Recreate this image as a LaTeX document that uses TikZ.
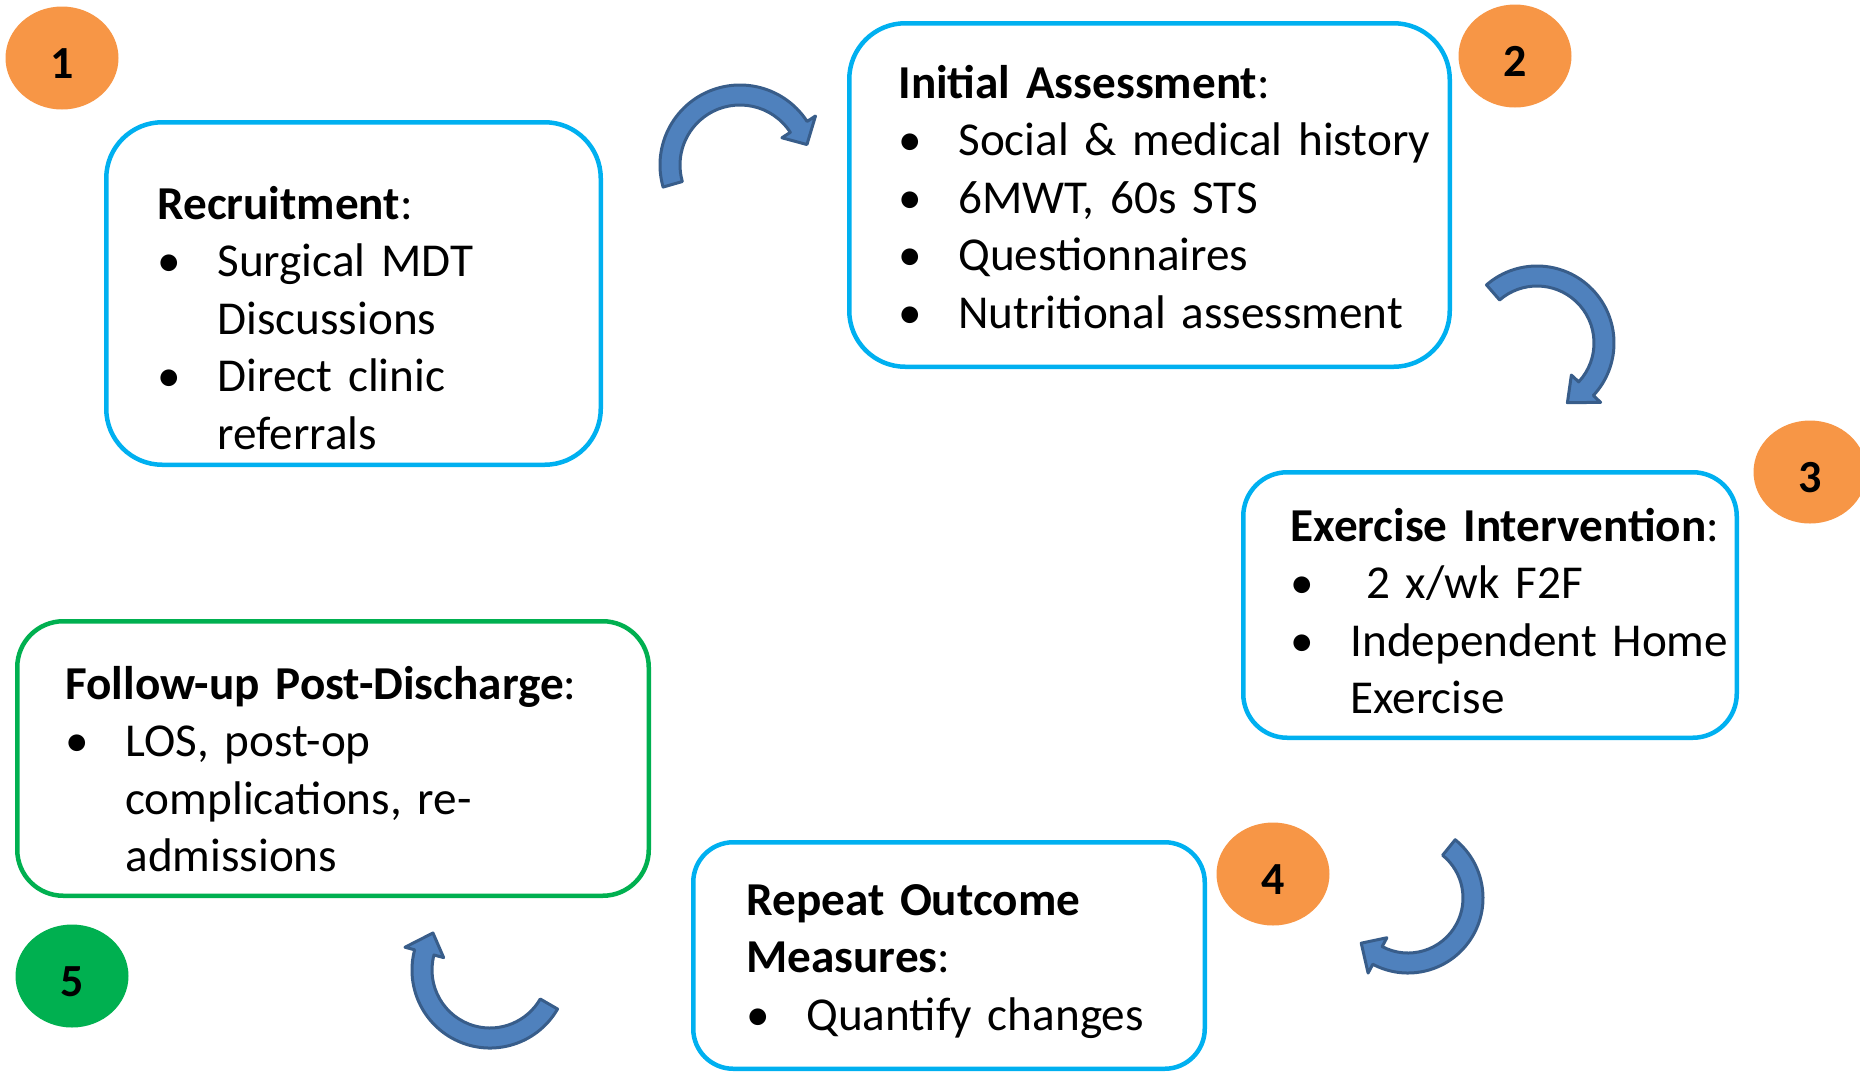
\documentclass[tikz,border=0pt]{standalone}
\usepackage{fontspec}
\setmainfont{Carlito}
\usepackage{xcolor}
\usepackage{tikz}
\usetikzlibrary{shapes.geometric, positioning}

\definecolor{stageblue}{HTML}{00B0F0}
\definecolor{stagegreen}{HTML}{00B050}
\definecolor{badgeorange}{HTML}{F79646}
\definecolor{arrowfill}{HTML}{4F81BD}
\definecolor{arrowline}{HTML}{385D8A}

% bullet line with hanging indent (break lines with \newline)
\newcommand{\bul}[1]{\par\noindent\hangindent=30pt\hangafter=1\makebox[30pt][l]{\textbullet}#1\par}

\begin{document}
\begin{tikzpicture}[
    x=0.5pt, y=-0.5pt,
    font=\fontsize{23.6pt}{28.75pt}\selectfont,
    % Stage boxes
    stage/.style={draw=stageblue, line width=2.25pt, fill=white, rectangle},
    stagetext/.style={anchor=north west, inner sep=0pt, text width=340pt, align=left},
    % Numbered badges
    badge/.style={ellipse, fill=badgeorange, minimum width=56.5pt, minimum height=51.5pt,
        inner sep=0pt, text height=20pt, text depth=0pt, font=\fontsize{23pt}{28.75pt}\selectfont\bfseries},
    % Curved block arrows: radius / start angle / end angle / tip angle
    arrowbody/.style={fill=arrowfill, draw=arrowline, line width=1.5pt, line join=round},
    pics/bendarrow/.style args={#1/#2/#3/#4}{code={
        \filldraw[arrowbody] (#2:#1+10) arc[start angle=#2, end angle=#3, radius=#1+10]
            -- (#3:#1+20) -- (#4:#1) -- (#3:#1-20) -- (#3:#1-10)
            arc[start angle=#3, end angle=#2, radius=#1-10] -- cycle;
    }}
]
\useasboundingbox (0,0) rectangle (1860,1073);

% ---------------------------------------------------
% 1. STAGE BOXES
% ---------------------------------------------------
\node[stage, rounded corners=28pt, minimum width=247.25pt, minimum height=171.25pt] (recruit) at (353.5,293.5) {};
\node[stage, rounded corners=28pt, minimum width=300.25pt, minimum height=171.75pt] (assess) at (1149.5,195) {};
\node[stage, rounded corners=22pt, minimum width=246.75pt, minimum height=132.75pt] (exercise) at (1490,605) {};
\node[stage, rounded corners=20pt, minimum width=255.75pt, minimum height=113.25pt] (repeat) at (949,955.5) {};
\node[stage, draw=stagegreen, rounded corners=23pt, minimum width=315.75pt, minimum height=137.25pt] (followup) at (333,758.5) {};

% box contents (first baseline sits 40.25 below the anchor)
\node[stagetext] (recruit_txt) at (157,178.75) {\strut\textbf{Recruitment}:
    \bul{Surgical MDT\newline Discussions}
    \bul{Direct clinic\newline referrals}};
\node[stagetext] (assess_txt) at (898,57.75) {\strut\textbf{Initial Assessment}:
    \bul{Social \& medical history}
    \bul{6MWT, 60s STS}
    \bul{Questionnaires}
    \bul{Nutritional assessment}};
\node[stagetext] (exercise_txt) at (1290,500.75) {\strut\textbf{Exercise Intervention}:
    \bul{\ 2 x/wk F2F}
    \bul{Independent Home\newline Exercise}};
\node[stagetext] (repeat_txt) at (746,874.75) {\strut\textbf{Repeat Outcome\\Measures}:
    \bul{Quantify changes}};
\node[stagetext] (followup_txt) at (65,658.75) {\strut\textbf{Follow-up Post-Discharge}:
    \bul{LOS, post-op\newline complications, re-\newline admissions}};

% ---------------------------------------------------
% 2. BADGES
% ---------------------------------------------------
\node[badge] (badge1) at (62,58) {1};
\node[badge] (badge2) at (1515,56) {2};
\node[badge] (badge3) at (1810,472) {3};
\node[badge] (badge4) at (1273,874) {4};
\node[badge, fill=stagegreen] (badge5) at (72,976) {5};

% ---------------------------------------------------
% 3. CURVED ARROWS (clockwise cycle)
% ---------------------------------------------------
\pic at (740,165) {bendarrow=70/-196/-33/-17};
\pic at (1537,343) {bendarrow=67/-131/43/63};
\pic at (1408,898) {bendarrow=65/-51/118/136};
\pic at (490,970) {bendarrow=68/30/195/213};

\end{tikzpicture}
\end{document}
